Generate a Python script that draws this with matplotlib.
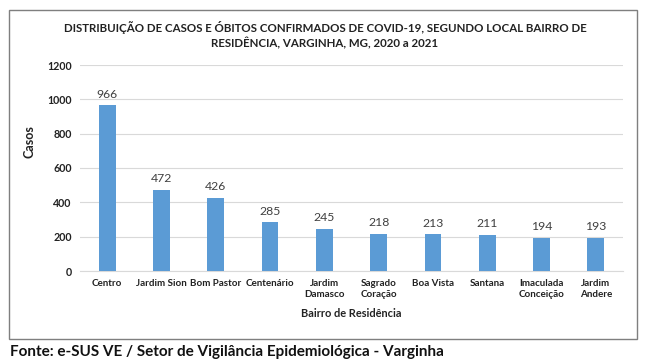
import matplotlib
matplotlib.use("Agg")
import matplotlib.pyplot as plt
from matplotlib.patches import Rectangle

categories = ["Centro", "Jardim Sion", "Bom Pastor", "Centenário", "Jardim\nDamasco",
              "Sagrado\nCoração", "Boa Vista", "Santana", "Imaculada\nConceição", "Jardim\nAndere"]
casos = [966, 472, 426, 285, 245, 218, 213, 211, 194, 193]
yticks = [0, 200, 400, 600, 800, 1000, 1200]

plt.rcParams['font.family'] = ['Lato', 'DejaVu Sans']

fig = plt.figure(figsize=(6.5, 3.63), dpi=100)
W, H = 650, 363

# outer frame
fig.patches.append(Rectangle((9 / W, 1 - 339 / H), (637 - 9) / W, (339 - 10) / H,
                             transform=fig.transFigure, fill=False, edgecolor='#7f7f7f',
                             linewidth=1.0))

ax = fig.add_axes([80 / W, 1 - 271 / H, (623 - 80) / W, (271 - 65) / H])
x = range(len(categories))
ax.bar(x, casos, width=0.31, color='#5B9BD5', zorder=3)
ax.set_xlim(-0.5, len(categories) - 0.5)
ax.set_ylim(0, 1200)
ax.set_yticks(yticks)
ax.set_yticklabels([str(v) for v in yticks], fontsize=7.7, fontweight='bold', color='#222222')
ax.set_xticks(list(x))
ax.set_xticklabels(categories, fontsize=7.1, fontweight='bold', color='#222222', linespacing=1.3)
ax.tick_params(axis='both', length=0, pad=6)
ax.grid(axis='y', color='#d9d9d9', linewidth=0.8, zorder=0)
for s in ['top', 'right', 'left']:
    ax.spines[s].set_visible(False)
ax.spines['bottom'].set_color('#d9d9d9')

for xi, v in zip(x, casos):
    ax.annotate(str(v), (xi, v), xytext=(0, 4), textcoords='offset points',
                ha='center', va='bottom', fontsize=8.8, color='#404040')

ax.set_ylabel("Casos", fontsize=9, fontweight='bold', color='#222222')
ax.yaxis.set_label_coords((29 - 80) / 543, (271 - 142) / 206)
ax.yaxis.label.set_va('center')
ax.set_xlabel("Bairro de Residência", fontsize=7.9, fontweight='bold', color='#222222', labelpad=6)

fig.text(0.5, 1 - 27 / H, "DISTRIBUIÇÃO DE CASOS E ÓBITOS CONFIRMADOS DE COVID-19, SEGUNDO LOCAL BAIRRO DE",
         ha='center', va='center', fontsize=8.3, fontweight='bold', color='#222222')
fig.text(0.5, 1 - 43 / H, "RESIDÊNCIA, VARGINHA, MG, 2020 a 2021",
         ha='center', va='center', fontsize=8.3, fontweight='bold', color='#222222')

fig.text(10 / W, 1 - 352 / H, "Fonte: e-SUS VE / Setor de Vigilância Epidemiológica - Varginha",
         ha='left', va='center', fontsize=11, fontweight='bold', color='#111111')

fig.savefig("out.png", dpi=100)
